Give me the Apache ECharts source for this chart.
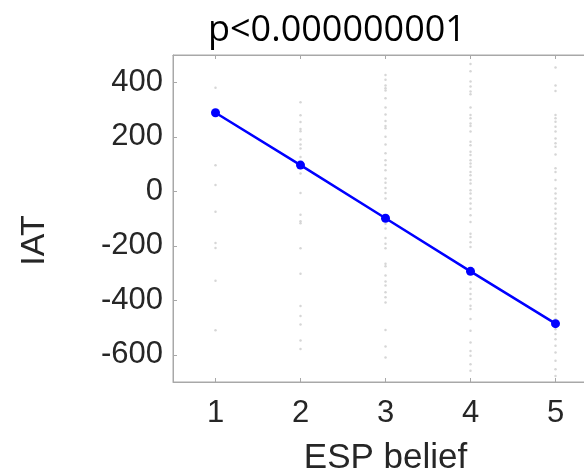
<!DOCTYPE html>
<html>
<head>
<meta charset="utf-8">
<script src="https://cdn.jsdelivr.net/npm/echarts@6/dist/echarts.min.js"></script>
<style>
html,body{margin:0;padding:0;background:#fff;}
#chart{width:584px;height:472px;}
</style>
</head>
<body>
<div id="chart"></div>
<script>
// ---- data ----
const titleText = 'p<0.000000001';
const xName = 'ESP belief';
const yName = 'IAT';
const espLevels = [1, 2, 3, 4, 5];
const xTickLabels = [1, 2, 3, 4, 5];
const yTickLabels = [-600, -400, -200, 0, 200, 400];
const fitValues = [288, 96, -99, -294, -486];
const rawLevel1 = [380, 95, 23, -75, -190, -208, -328, -510];
const rawLevel2 = [327, 279, 254, 228, 220, 190, 172, 157, 126, 84, 65, -6, -86, -110, -117, -209, -303, -421, -458, -489, -548, -579];
const rawLevel3 = [427, 409, 388, 378, 370, 341, 307, 282, 258, 239, 231, 200, 172, 139, 114, 96, 77, 47, 31, 12, -6, -27, -119, -137, -172, -193, -209, -266, -275, -309, -331, -346, -371, -389, -408, -509, -570, -610];
const rawLevel4 = [467, 440, 403, 384, 366, 356, 307, 280, 268, 249, 239, 219, 182, 169, 145, 133, 114, 102, 90, 71, 59, 41, 28, 4, -8, -27, -45, -64, -88, -113, -156, -168, -187, -205, -334, -358, -377, -395, -420, -432, -469, -512, -555, -586, -604, -635, -659];
const rawLevel5 = [454, 388, 368, 280, 268, 255, 237, 219, 194, 176, 163, 135, 84, 71, 41, 10, -8, -27, -45, -64, -82, -101, -119, -137, -156, -174, -193, -211, -230, -248, -266, -285, -303, -322, -340, -358, -377, -395, -414, -432, -450, -469, -506, -524, -543, -567, -592, -622, -653, -678];

const rawByLevel = [rawLevel1, rawLevel2, rawLevel3, rawLevel4, rawLevel5];
const rawPoints = [];
espLevels.forEach((lv, i) => rawByLevel[i].forEach(v => rawPoints.push([lv, v])));
const fitPoints = espLevels.map((lv, i) => [lv, fitValues[i]]);

const axisColor = '#a8a8a8';
const textColor = '#262626';
const fontFam = '"Liberation Sans", Arial, Helvetica, sans-serif';

const chart = echarts.init(document.getElementById('chart'), null, {renderer: 'canvas'});
chart.setOption({
  animation: false,
  backgroundColor: '#ffffff',
  title: {
    text: titleText,
    left: 203,
    top: 8,
    textStyle: {fontFamily: '"Open Sans", sans-serif', fontWeight: 'normal', fontSize: 36, color: '#000'}
  },
  grid: {left: 173, top: 55, width: 425, height: 327, show: true, borderColor: axisColor, borderWidth: 1, containLabel: false, outerBoundsMode: 'none'},
  xAxis: [{
    type: 'value', min: 0.5, max: 5.5,
    name: xName, nameLocation: 'middle', nameGap: 59,
    nameTextStyle: {fontFamily: fontFam, fontSize: 35, color: textColor},
    axisLine: {show: true, onZero: false, lineStyle: {color: axisColor, width: 1}},
    axisTick: {show: true, inside: true, length: 4, customValues: xTickLabels, lineStyle: {color: axisColor}},
    axisLabel: {show: true, customValues: xTickLabels, margin: 16, fontFamily: fontFam, fontSize: 31, color: textColor},
    splitLine: {show: false}
  }, {
    type: 'value', min: 0.5, max: 5.5, position: 'top',
    axisLine: {show: true, onZero: false, lineStyle: {color: axisColor, width: 1}},
    axisTick: {show: true, inside: true, length: 4, customValues: xTickLabels, lineStyle: {color: axisColor}},
    axisLabel: {show: false},
    splitLine: {show: false}
  }],
  yAxis: {
    type: 'value', min: -700, max: 500,
    name: yName, nameLocation: 'middle', nameGap: 121, nameRotate: 90,
    nameTextStyle: {fontFamily: fontFam, fontSize: 34, color: textColor, padding: [0, 44, 0, 0]},
    axisLine: {show: true, onZero: false, lineStyle: {color: axisColor, width: 1}},
    axisTick: {show: true, inside: true, length: 4, customValues: yTickLabels, lineStyle: {color: axisColor}},
    axisLabel: {show: true, customValues: yTickLabels, margin: 10, fontFamily: fontFam, fontSize: 31, color: textColor},
    splitLine: {show: false}
  },
  series: [{
    type: 'scatter',
    data: rawPoints,
    symbol: 'circle',
    symbolSize: 2.5,
    itemStyle: {color: '#cccccc'},
    silent: true,
    z: 1
  }, {
    type: 'line',
    data: fitPoints,
    symbol: 'circle',
    symbolSize: 9,
    showSymbol: true,
    lineStyle: {color: '#0000ff', width: 2.5},
    itemStyle: {color: '#0000ff'},
    z: 3
  }]
});
</script>
</body>
</html>
